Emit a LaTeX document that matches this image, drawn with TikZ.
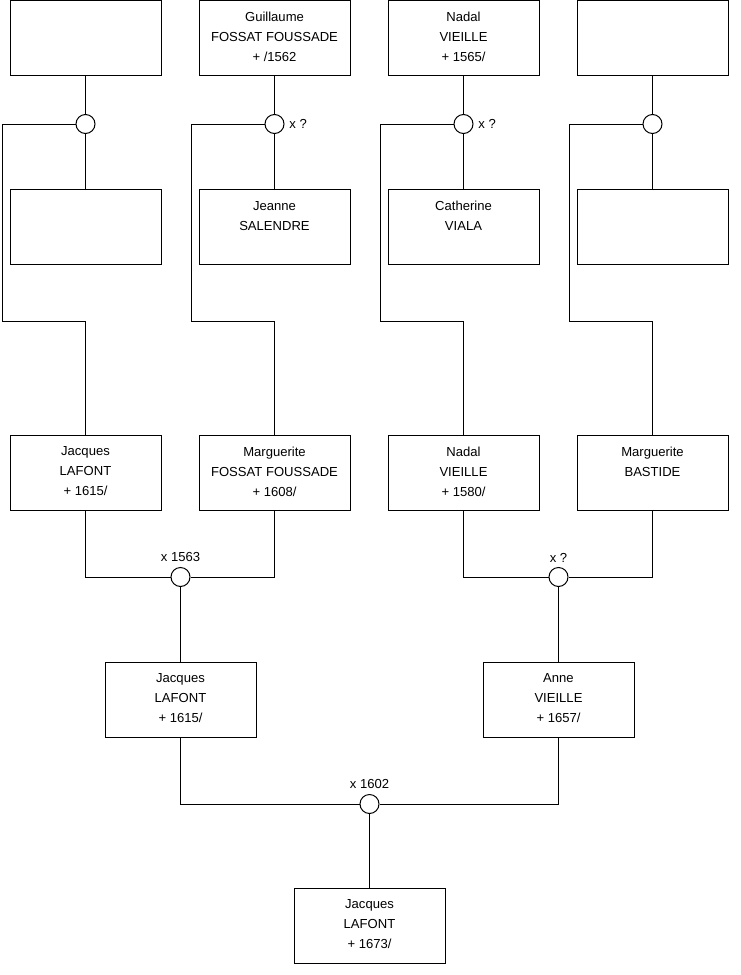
\documentclass[tikz,border=0pt]{standalone}
\usepackage{fontspec}
\setmainfont{Liberation Sans}
\newcommand{\fiche}[1]{\parbox[c][38.5pt][t]{113pt}{\centering #1}}

\begin{document}
\begin{tikzpicture}[x=0.75pt, y=-0.75pt, line width=0.75pt,
      every node/.style={font=\fontsize{9.8}{15}\selectfont},
      person/.style={draw, fill=white, minimum width=113.25pt,
          minimum height=56.25pt, inner sep=0pt},
      union/.style={draw, fill=white, circle, minimum size=14.25pt, inner sep=0pt}]
    \useasboundingbox (0,0) rectangle (740,975);
    \node[person] (a1) at (85.5,37.5) {\fiche{}};
    \node[person] (a2) at (274.5,37.5) {\fiche{Guillaume\\FOSSAT FOUSSADE\\+ /1562}};
    \node[person] (a3) at (463.5,37.5) {\fiche{Nadal\\VIEILLE\\+ 1565/}};
    \node[person] (a4) at (652.5,37.5) {\fiche{}};
    \node[union] (u1) at (85.5,124) {};
    \node[union, label=right:x ?] (u2) at (274.5,124) {};
    \node[union, label=right:x ?] (u3) at (463.5,124) {};
    \node[union] (u4) at (652.5,124) {};
    \node[person] (b1) at (85.5,227) {\fiche{}};
    \node[person] (b2) at (274.5,227) {\fiche{Jeanne\\SALENDRE}};
    \node[person] (b3) at (463.5,227) {\fiche{Catherine\\VIALA}};
    \node[person] (b4) at (652.5,227) {\fiche{}};
    \foreach \i in {1,...,4} {
      \draw (a\i.south) -- (u\i.north);
      \draw (u\i.south) -- (b\i.north);
    }
    \coordinate (k1) at (2,321);
    \coordinate (k2) at (191,321);
    \coordinate (k3) at (380,321);
    \coordinate (k4) at (569,321);
    \node[person] (c1) at (85.5,472.5) {\fiche{Jacques\\LAFONT\\+ 1615/}};
    \node[person] (c2) at (274.5,472.5) {\fiche{Marguerite\\FOSSAT FOUSSADE\\+ 1608/}};
    \node[person] (c3) at (463.5,472.5) {\fiche{Nadal\\VIEILLE\\+ 1580/}};
    \node[person] (c4) at (652.5,472.5) {\fiche{Marguerite\\BASTIDE}};
    \foreach \i in {1,...,4} {
      \draw (u\i.west) -| (k\i) -| (c\i.north);
    }
    \node[union, label=above:x 1563] (v1) at (180.5,577) {};
    \node[union, label=above:x ?] (v2) at (558.5,577) {};
    \draw (c1.south) |- (v1.west);
    \draw (c2.south) |- (v1.east);
    \draw (c3.south) |- (v2.west);
    \draw (c4.south) |- (v2.east);
    \node[person] (d1) at (180.5,699.5) {\fiche{Jacques\\LAFONT\\+ 1615/}};
    \node[person] (d2) at (558.5,699.5) {\fiche{Anne\\VIEILLE\\+ 1657/}};
    \draw (v1.south) -- (d1.north);
    \draw (v2.south) -- (d2.north);
    \node[union, label=above:x 1602] (w1) at (369.5,804) {};
    \draw (d1.south) |- (w1.west);
    \draw (d2.south) |- (w1.east);
    \node[person] (e1) at (369.5,925.5) {\fiche{Jacques\\LAFONT\\+ 1673/}};
    \draw (w1.south) -- (e1.north);
\end{tikzpicture}
\end{document}
